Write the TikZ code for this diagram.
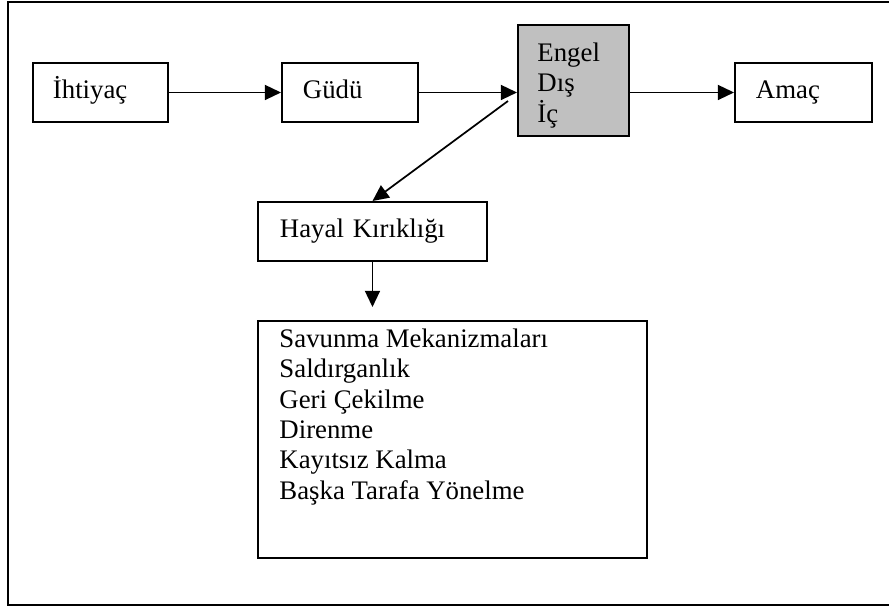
\documentclass[tikz,border=0pt]{standalone}
\usepackage{fontspec}
\setmainfont{Liberation Serif}
\usetikzlibrary{arrows.meta,calc}
\def\px{0.433pt}
\definecolor{engelgray}{RGB}{192,192,192}
\begin{document}
\begin{tikzpicture}[x=\px,y=-\px,
  every node/.style={font=\fontsize{11.6}{13.2}\selectfont},
  box/.style={draw, line width=0.85pt, rectangle, anchor=north west,
    align=left, inner ysep=0pt, text height=8.5pt, text depth=3.3pt},
  plainbox/.style={draw, line width=0.85pt, rectangle, anchor=north west},
  listtext/.style={anchor=north west, inner sep=0pt, align=left},
  flow/.style={line width=0.75pt, -{Triangle[length=7pt,width=6.5pt]}}]
  \useasboundingbox (0,0) rectangle (889,607);
  % outer frame
  \draw[line width=0.85pt] (8,2) rectangle (900,605);
  % top row
  \node[box, minimum width=135*\px, minimum height=59*\px,
        text width=(135-40)*\px, inner xsep=20*\px] (need) at (32,62) {İhtiyaç};
  \node[box, minimum width=136*\px, minimum height=59*\px,
        text width=(136-42)*\px, inner xsep=21*\px] (drive) at (281,62) {Güdü};
  \node[plainbox, fill=engelgray, minimum width=111*\px, minimum height=111*\px] (engel) at (517,24) {};
  \node[listtext] (engeltext) at (537,42) {Engel\\Dış\\İç};
  \node[box, minimum width=137*\px, minimum height=59*\px,
        text width=(137-42)*\px, inner xsep=21*\px] (goal) at (734,62) {Amaç};
  % frustration and its outcomes
  \node[box, minimum width=229*\px, minimum height=59*\px,
        text width=(229-44)*\px, inner xsep=22*\px] (frust) at (257,201) {Hayal Kırıklığı};
  \node[plainbox, minimum width=389*\px, minimum height=237*\px] (mech) at (257,320) {};
  \node[listtext] (mechlist) at (279,328)
    {Savunma Mekanizmaları\\Saldırganlık\\Geri Çekilme\\Direnme\\Kayıtsız Kalma\\Başka Tarafa Yönelme};
  % connectors
  \draw[flow] (need.east) -- (drive.west);
  \draw[flow] (drive.east) -- (drive.east -| engel.west);
  \draw[flow] (drive.east -| engel.east) -- (goal.west);
  \coordinate (diagstart) at (508,101);
  \draw[flow] (diagstart) -- (frust.north);
  \coordinate (downend) at ($(frust.south |- mech.north)+(0,-13)$);
  \draw[flow] (frust.south) -- (downend);
\end{tikzpicture}
\end{document}
